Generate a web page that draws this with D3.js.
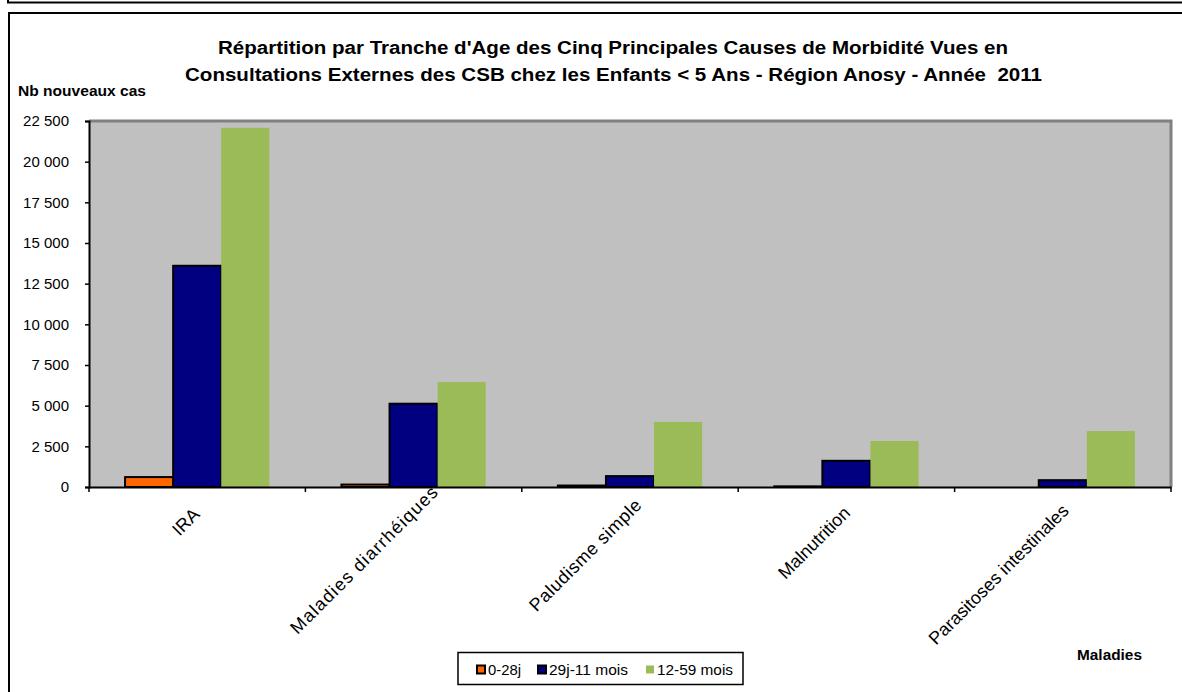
<!DOCTYPE html>
<html><head><meta charset="utf-8">
<script src="https://cdn.jsdelivr.net/npm/d3@7"></script>
<style>body{margin:0;background:#fff;} svg{display:block;font-family:"Liberation Sans",Arial,sans-serif;}</style>
</head><body>
<svg id="c" width="1182" height="692"></svg>
<script>
const categories = ["IRA","Maladies diarrhéiques","Paludisme simple","Malnutrition","Parasitoses intestinales"];
const seriesNames = ["0-28j","29j-11 mois","12-59 mois"];
const s0_28j = [610, 150, 90, 40, 0];
const s29j_11m = [13600, 5120, 670, 1610, 420];
const s12_59m = [22080, 6450, 4000, 2830, 3440];
const yTicks = [0,2500,5000,7500,10000,12500,15000,17500,20000,22500];
const colors = ["#FF6600","#000080","#9BBB59"];
const strokes = ["#000","#000","none"];
// layout only: how far each rotated label is slid along its own baseline, and its drawn length (px)
const labelSlide = [-5, 26, 8, -3, 0];
const labelLen = [null, 200, 150, null, null];

const svg = d3.select("#c");
// outer frames
svg.append("rect").attr("x",8).attr("y",-10).attr("width",1190).attr("height",12.5).attr("fill","none").attr("stroke","#000").attr("stroke-width",2);
svg.append("rect").attr("x",9).attr("y",13).attr("width",1190).attr("height",700).attr("fill","none").attr("stroke","#000").attr("stroke-width",2);

const L=89, R=1171, T=121, B=487;
const x = d3.scaleBand().domain(categories).range([L,R]).paddingInner(0).paddingOuter(0);
const y = d3.scaleLinear().domain([0,22500]).range([B,T]);
const bw = x.bandwidth()/4.5;

svg.append("rect").attr("x",L).attr("y",T).attr("width",R-L).attr("height",B-T).attr("fill","#C0C0C0");
svg.append("path").attr("d",`M${L},${T}H${R}V${B}`).attr("fill","none").attr("stroke","#808080").attr("stroke-width",3);

const series = [s0_28j, s29j_11m, s12_59m];
series.forEach((vals,si)=>{
  svg.append("g").selectAll("rect").data(vals).join("rect")
    .attr("x",(d,i)=>x(categories[i]) + bw*0.75 + si*bw)
    .attr("y",d=>y(d))
    .attr("width",bw)
    .attr("height",d=>B-y(d))
    .attr("fill",colors[si])
    .attr("stroke",strokes[si])
    .attr("stroke-width",2)
    .style("display",d=>d<=0?"none":null);
});

// y axis
const ya = svg.append("g").attr("transform",`translate(${L},0)`)
  .call(d3.axisLeft(y).tickValues(yTicks).tickSize(4).tickPadding(16)
    .tickFormat(d=>d3.format(",")(d).replace(/,/g," ")));
ya.select(".domain").attr("stroke","#000").attr("stroke-width",2);
ya.selectAll(".tick line").attr("stroke","#000").attr("stroke-width",1.5);
ya.selectAll("text").attr("font-size",15).attr("fill","#000").attr("font-family","Liberation Sans, Arial, sans-serif");

// x axis
const xa = svg.append("g").attr("transform",`translate(0,${B})`)
  .call(d3.axisBottom(x).tickSize(0).tickFormat(""));
xa.select(".domain").attr("stroke","#000").attr("stroke-width",2);
const bounds = categories.map(c=>x(c)).concat([R]);
svg.append("g").selectAll("line").data(bounds).join("line")
  .attr("x1",d=>d).attr("x2",d=>d).attr("y1",B).attr("y2",B+5)
  .attr("stroke","#000").attr("stroke-width",1.5);
const s2 = Math.SQRT1_2;
svg.append("g").selectAll("text").data(categories).join("text")
  .attr("transform",(d,i)=>{
    const ex = x(d)+x.bandwidth()/2+7 + labelSlide[i]*s2;
    const ey = B+25 - labelSlide[i]*s2;
    return `translate(${ex},${ey}) rotate(-45)`;
  })
  .attr("text-anchor","end")
  .attr("font-size",18).attr("fill","#000")
  .each(function(d,i){ if(labelLen[i]) d3.select(this).attr("textLength",labelLen[i]).attr("lengthAdjust","spacing"); })
  .text(d=>d);

// titles
const title = svg.append("text").attr("text-anchor","middle").attr("font-size",18).attr("font-weight","bold").attr("fill","#000").style("white-space","pre");
title.append("tspan").attr("x",613).attr("y",54).attr("textLength",790).attr("lengthAdjust","spacingAndGlyphs").text("Répartition par Tranche d'Age des Cinq Principales Causes de Morbidité Vues en");
title.append("tspan").attr("x",613.5).attr("y",81).attr("textLength",857).attr("lengthAdjust","spacingAndGlyphs").text("Consultations Externes des CSB chez les Enfants < 5 Ans - Région Anosy - Année  2011");
svg.append("text").attr("x",18).attr("y",96).attr("font-size",15).attr("font-weight","bold")
  .attr("textLength",128).attr("lengthAdjust","spacingAndGlyphs").text("Nb nouveaux cas");
svg.append("text").attr("x",1077).attr("y",660).attr("font-size",15).attr("font-weight","bold")
  .attr("textLength",65).attr("lengthAdjust","spacingAndGlyphs").text("Maladies");

// legend
const lg = svg.append("g");
lg.append("rect").attr("x",458).attr("y",652.5).attr("width",285).attr("height",32).attr("fill","#fff").attr("stroke","#000").attr("stroke-width",1.5);
const lx = [476, 537, 645];
const lw = [33, 79, 76];
seriesNames.forEach((n,i)=>{
  lg.append("rect").attr("x",lx[i]+1).attr("y",665.5).attr("width",8).attr("height",8)
    .attr("fill",colors[i]).attr("stroke",strokes[i]).attr("stroke-width",2);
  lg.append("text").attr("x",lx[i]+12).attr("y",674.5).attr("font-size",15).attr("fill","#000")
    .attr("textLength",lw[i]).attr("lengthAdjust","spacingAndGlyphs").text(n);
});
</script>
</body></html>
